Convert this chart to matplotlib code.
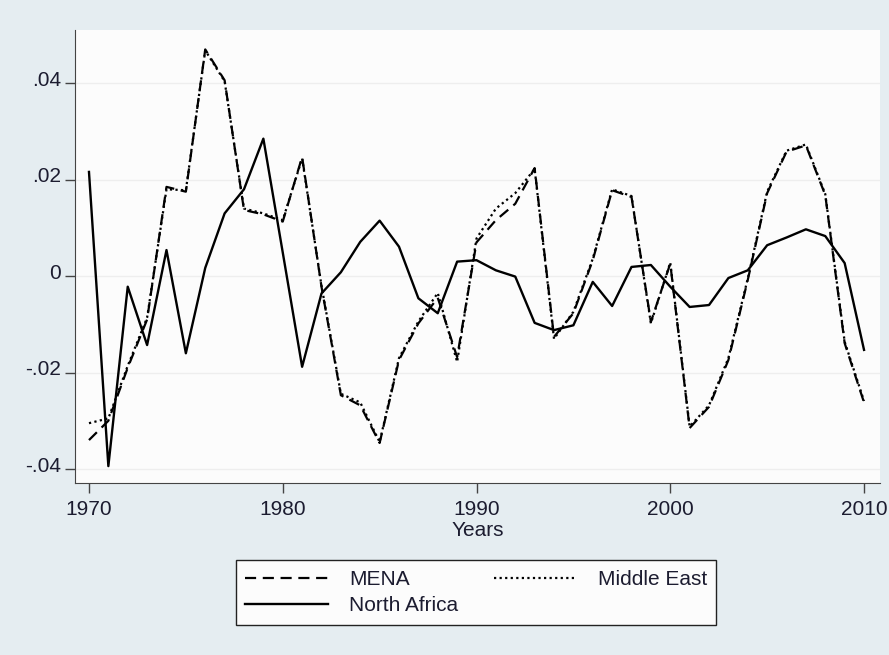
"""Growth cycles: MENA, Middle East and North Africa, 1970-2010"""

import matplotlib
matplotlib.use('Agg')
import matplotlib.pyplot as plt
import matplotlib.transforms as mtransforms

years = list(range(1970, 2011))

mena = [-0.0340, -0.0300, -0.0190, -0.0090, 0.0185, 0.0175, 0.0470, 0.0406, 0.0137, 0.0128,
        0.0113, 0.0247, -0.0022, -0.0247, -0.0268, -0.0346, -0.0174, -0.0098, -0.0045, -0.0168,
        0.0070, 0.0116, 0.0150, 0.0224, -0.0126, -0.0077, 0.0033, 0.0178, 0.0164, -0.0095,
        0.0026, -0.0315, -0.0271, -0.0174, -0.0008, 0.0172, 0.0258, 0.0271, 0.0168, -0.0139,
        -0.0262]

middle_east = [-0.0305, -0.0295, -0.0186, -0.0086, 0.0180, 0.0178, 0.0468, 0.0404, 0.0140, 0.0130,
               0.0116, 0.0244, -0.0020, -0.0244, -0.0262, -0.0344, -0.0170, -0.0094, -0.0035, -0.0178,
               0.0078, 0.0140, 0.0172, 0.0222, -0.0130, -0.0074, 0.0036, 0.0180, 0.0166, -0.0098,
               0.0028, -0.0312, -0.0268, -0.0170, -0.0005, 0.0175, 0.0260, 0.0273, 0.0170, -0.0136,
               -0.0259]

north_africa = [0.0216, -0.0394, -0.0022, -0.0143, 0.0054, -0.0160, 0.0017, 0.0130, 0.0180, 0.0285,
                0.0049, -0.0188, -0.0036, 0.0008, 0.0071, 0.0115, 0.0061, -0.0046, -0.0077, 0.0030,
                0.0033, 0.0012, -0.0001, -0.0097, -0.0112, -0.0102, -0.0012, -0.0062, 0.0019, 0.0023,
                -0.0022, -0.0064, -0.0060, -0.0004, 0.0012, 0.0064, 0.0080, 0.0097, 0.0083, 0.0027,
                -0.0153]

y_ticks = [0.04, 0.02, 0.0, -0.02, -0.04]
y_tick_labels = ['.04', '.02', '0', '-.02', '-.04']
x_ticks = [1970, 1980, 1990, 2000, 2010]

plt.rcParams['font.family'] = ['Liberation Sans', 'DejaVu Sans']

fig = plt.figure(figsize=(8.89, 6.55), dpi=100)
fig.patch.set_facecolor('#e5edf1')
ax = fig.add_axes([0.0844, 0.2626, 0.9056, 0.6914])
ax.set_facecolor('#fcfcfc')

for t in y_ticks:
    ax.axhline(t, color='#eeeeee', linewidth=1.0, zorder=0)

l_mena, = ax.plot(years, mena, color='black', linestyle=(0, (5, 3)), linewidth=1.6, label='MENA')
l_me, = ax.plot(years, middle_east, color='black', linestyle=(0, (1, 1.5)), linewidth=1.6,
                label='Middle East')
l_na, = ax.plot(years, north_africa, color='black', linestyle='-', linewidth=1.7, label='North Africa')

ax.set_xlim(1969.28, 2010.83)
ax.set_ylim(-0.0429, 0.051)

ax.spines['top'].set_visible(False)
ax.spines['right'].set_visible(False)
ax.spines['left'].set_color('#444444')
ax.spines['bottom'].set_color('#444444')

ax.set_xticks(x_ticks)
ax.set_xticklabels([str(x) for x in x_ticks])
ax.set_yticks(y_ticks)
ax.set_yticklabels(y_tick_labels)
ax.tick_params(axis='both', direction='out', length=7, width=1, color='#444444',
               labelsize=15, labelcolor='#1c1c30')
ax.tick_params(axis='y', pad=3)
ax.tick_params(axis='x', pad=5)

# Stata style: y labels sit a little above their ticks
shift = mtransforms.ScaledTranslation(0, 5 / 100, fig.dpi_scale_trans)
for lbl in ax.get_yticklabels():
    lbl.set_transform(lbl.get_transform() + shift)

ax.set_xlabel('Years', fontsize=15, color='#1c1c30', labelpad=2)

# column-major fill: MENA / North Africa in col 1, Middle East in col 2
leg = fig.legend([l_mena, l_na, l_me], ['MENA', 'North Africa', 'Middle East'],
                 loc='center', bbox_to_anchor=(0.5355, 0.0954), ncol=2, fontsize=15,
                 handlelength=4.0, frameon=True, fancybox=False, edgecolor='#222222',
                 facecolor='#fcfcfc', framealpha=1, columnspacing=1.7, handletextpad=1.0,
                 borderpad=0.45, labelspacing=0.35)
leg.get_frame().set_linewidth(1.0)
for txt in leg.get_texts():
    txt.set_color('#1c1c30')

fig.savefig('out.png', dpi=100, facecolor=fig.get_facecolor())
